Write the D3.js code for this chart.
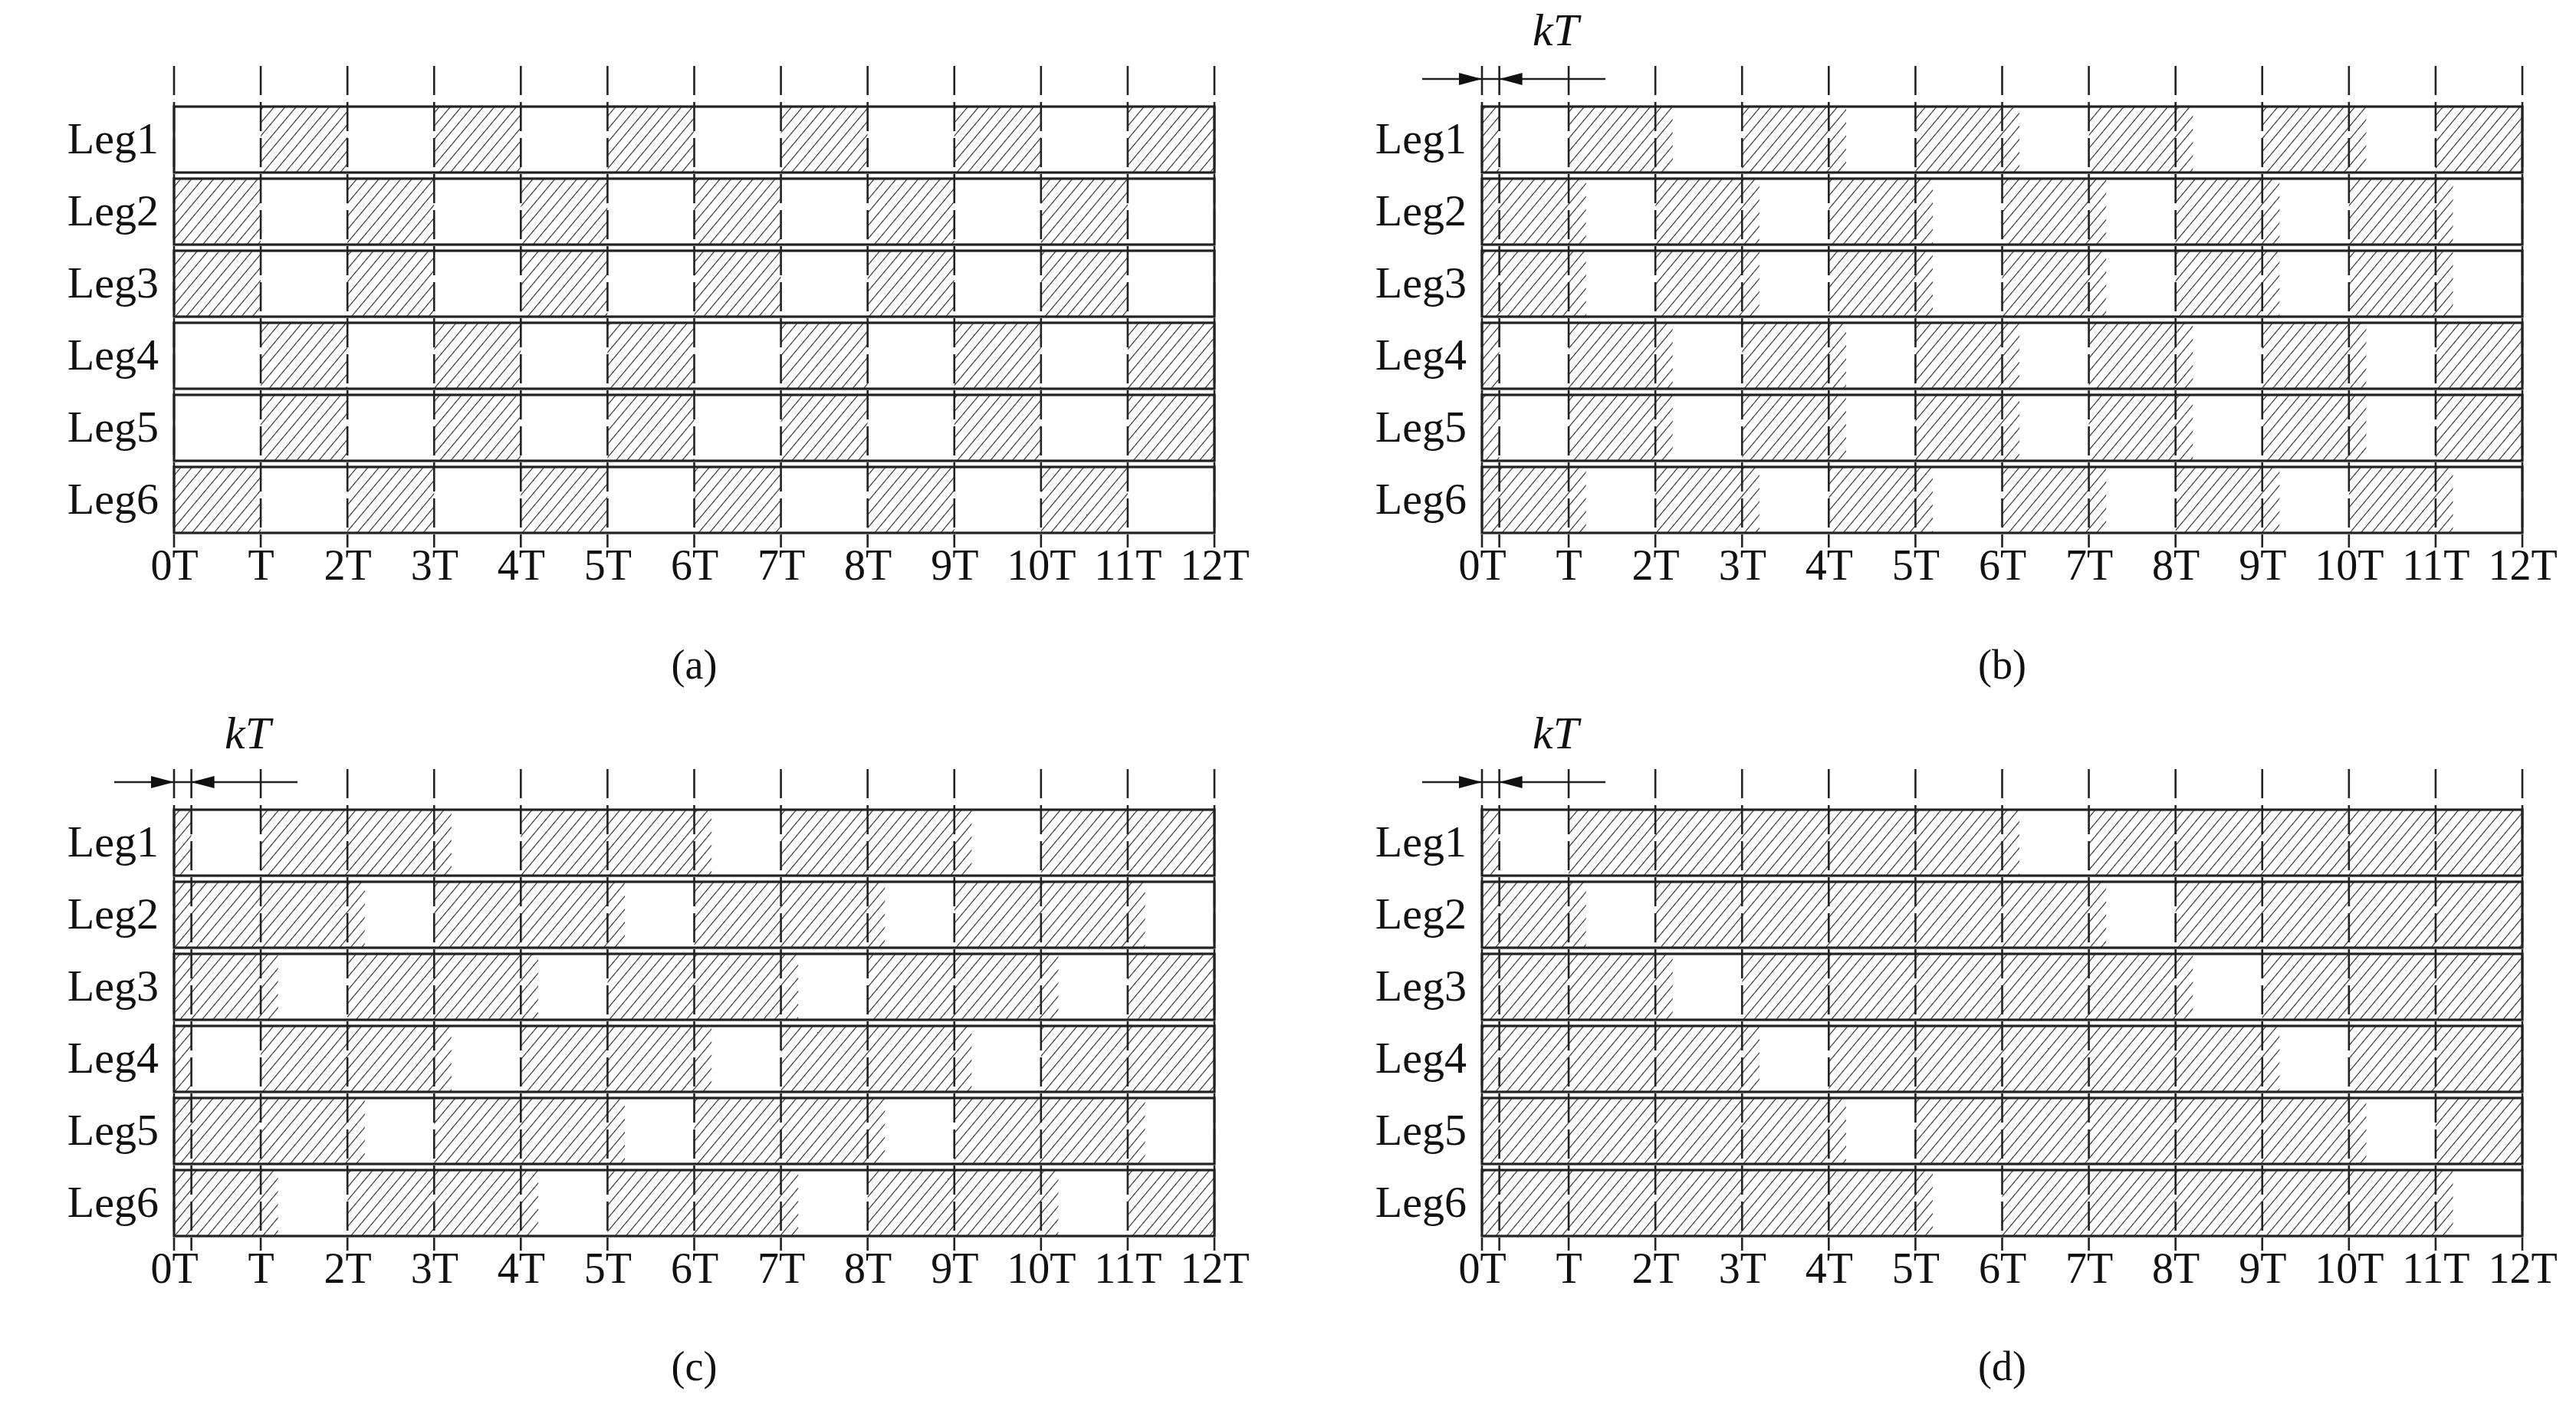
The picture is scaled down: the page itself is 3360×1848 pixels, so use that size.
<!DOCTYPE html>
<html><head><meta charset="utf-8">
<script src="https://cdn.jsdelivr.net/npm/d3@7"></script>
<style>body{margin:0;background:#fff}svg{display:block}text{font-family:"Liberation Serif","DejaVu Serif",serif;fill:#111}</style>
</head><body>
<script>
const legs = ["Leg1","Leg2","Leg3","Leg4","Leg5","Leg6"];
const tickValues = [0,1,2,3,4,5,6,7,8,9,10,11,12];
const tickLabels = ["0T","T","2T","3T","4T","5T","6T","7T","8T","9T","10T","11T","12T"];
const kShift = 0.2;
const captions = ["(a)","(b)","(c)","(d)"];
// hatched (on) intervals per leg, in units of T
const panelA = [
  [[1,2],[3,4],[5,6],[7,8],[9,10],[11,12]],
  [[0,1],[2,3],[4,5],[6,7],[8,9],[10,11]],
  [[0,1],[2,3],[4,5],[6,7],[8,9],[10,11]],
  [[1,2],[3,4],[5,6],[7,8],[9,10],[11,12]],
  [[1,2],[3,4],[5,6],[7,8],[9,10],[11,12]],
  [[0,1],[2,3],[4,5],[6,7],[8,9],[10,11]]];
const panelB = [
  [[0,0.2],[1,2.2],[3,4.2],[5,6.2],[7,8.2],[9,10.2],[11,12]],
  [[0,1.2],[2,3.2],[4,5.2],[6,7.2],[8,9.2],[10,11.2]],
  [[0,1.2],[2,3.2],[4,5.2],[6,7.2],[8,9.2],[10,11.2]],
  [[0,0.2],[1,2.2],[3,4.2],[5,6.2],[7,8.2],[9,10.2],[11,12]],
  [[0,0.2],[1,2.2],[3,4.2],[5,6.2],[7,8.2],[9,10.2],[11,12]],
  [[0,1.2],[2,3.2],[4,5.2],[6,7.2],[8,9.2],[10,11.2]]];
const panelC = [
  [[0,0.2],[1,3.2],[4,6.2],[7,9.2],[10,12]],
  [[0,2.2],[3,5.2],[6,8.2],[9,11.2]],
  [[0,1.2],[2,4.2],[5,7.2],[8,10.2],[11,12]],
  [[0,0.2],[1,3.2],[4,6.2],[7,9.2],[10,12]],
  [[0,2.2],[3,5.2],[6,8.2],[9,11.2]],
  [[0,1.2],[2,4.2],[5,7.2],[8,10.2],[11,12]]];
const panelD = [
  [[0,0.2],[1,6.2],[7,12]],
  [[0,1.2],[2,7.2],[8,12]],
  [[0,2.2],[3,8.2],[9,12]],
  [[0,3.2],[4,9.2],[10,12]],
  [[0,4.2],[5,10.2],[11,12]],
  [[0,5.2],[6,11.2]]];
const panels = [panelA,panelB,panelC,panelD];
const hasK = [false,true,true,true];

const W=3360,H=1848;
const svg=d3.select("body").append("svg").attr("width",W).attr("height",H);
const defs=svg.append("defs");
const pat=defs.append("pattern").attr("id","hatch").attr("patternUnits","userSpaceOnUse")
  .attr("width",11).attr("height",11).attr("patternTransform","rotate(40)");
pat.append("line").attr("x1",0).attr("y1",0).attr("x2",0).attr("y2",11).attr("stroke","#222").attr("stroke-width",2.2);

const layout=[
  {x0:227,x1:1584,top:139,capY:885},
  {x0:1933,x1:3290,top:139,capY:885},
  {x0:227,x1:1584,top:1056,capY:1800},
  {x0:1933,x1:3290,top:1056,capY:1800}];

panels.forEach((data,pi)=>{
  const L=layout[pi];
  const g=svg.append("g");
  const x=d3.scaleLinear().domain([0,12]).range([L.x0,L.x1]);
  const y=d3.scaleBand().domain(legs).range([L.top,L.top+6*94-8]).paddingInner(0.085);
  const gridTop=L.top-53, gridBot=L.top+575;
  // rows
  legs.forEach((leg,li)=>{
    g.selectAll(null).data(data[li]).join("rect")
      .attr("x",d=>x(d[0])).attr("width",d=>x(d[1])-x(d[0]))
      .attr("y",y(leg)).attr("height",y.bandwidth()).attr("fill","url(#hatch)");
    g.append("rect").attr("x",x(0)).attr("width",x(12)-x(0)).attr("y",y(leg)).attr("height",y.bandwidth())
      .attr("fill","none").attr("stroke","#222").attr("stroke-width",3.2);
    g.append("text").attr("x",x(0)-20).attr("y",y(leg)+y.bandwidth()/2+18).attr("text-anchor","end")
      .attr("font-size",58).text(leg);
  });
  // dashed grid
  const gridVals = hasK[pi] ? tickValues.concat([kShift]) : tickValues;
  g.selectAll(null).data(gridVals).join("line")
    .attr("x1",d=>x(d)).attr("x2",d=>x(d)).attr("y1",gridTop).attr("y2",gridBot)
    .attr("stroke","#222").attr("stroke-width",2.6).attr("stroke-dasharray","38,9");
  // axis labels
  const ax=d3.axisBottom(x).tickValues(tickValues).tickFormat((d,i)=>tickLabels[i]).tickSize(0).tickPadding(0);
  const axg=g.append("g").attr("transform",`translate(0,${gridBot+42})`).call(ax);
  axg.select(".domain").remove();
  axg.selectAll("text").attr("font-size",56).attr("font-family","Liberation Serif, serif").attr("fill","#111").attr("dy","0");
  g.append("text").attr("x",(L.x0+L.x1)/2).attr("y",L.capY).attr("text-anchor","middle").attr("font-size",54).text(captions[pi]);
  if(hasK[pi]){
    const ay=L.top-36;
    g.append("line").attr("x1",x(0)-78).attr("x2",x(1)+48).attr("y1",ay).attr("y2",ay).attr("stroke","#222").attr("stroke-width",2.5);
    g.append("path").attr("d",`M${x(0)},${ay} L${x(0)-30},${ay-8} L${x(0)-30},${ay+8}Z`).attr("fill","#111");
    g.append("path").attr("d",`M${x(kShift)},${ay} L${x(kShift)+30},${ay-8} L${x(kShift)+30},${ay+8}Z`).attr("fill","#111");
    g.append("text").attr("x",x(1)-17).attr("y",ay-44).attr("text-anchor","middle").attr("font-size",60).attr("font-style","italic").text("kT");
  }
});
</script>
</body></html>
